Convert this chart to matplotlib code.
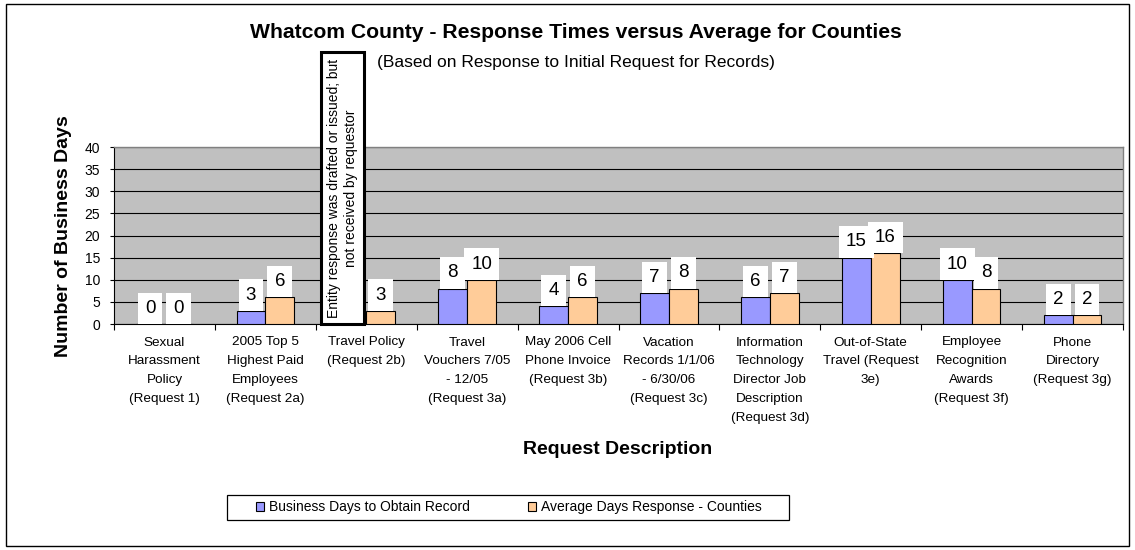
import numpy as np
import matplotlib
matplotlib.use("Agg")
import matplotlib.pyplot as plt
from matplotlib.patches import Rectangle

plt.rcParams['font.family'] = ['Liberation Sans', 'DejaVu Sans']

# ---- data -------------------------------------------------------------
categories = [
    "Sexual\nHarassment\nPolicy\n(Request 1)",
    "2005 Top 5\nHighest Paid\nEmployees\n(Request 2a)",
    "Travel Policy\n(Request 2b)",
    "Travel\nVouchers 7/05\n- 12/05\n(Request 3a)",
    "May 2006 Cell\nPhone Invoice\n(Request 3b)",
    "Vacation\nRecords 1/1/06\n- 6/30/06\n(Request 3c)",
    "Information\nTechnology\nDirector Job\nDescription\n(Request 3d)",
    "Out-of-State\nTravel (Request\n3e)",
    "Employee\nRecognition\nAwards\n(Request 3f)",
    "Phone\nDirectory\n(Request 3g)",
]
business_days = [0, 3, np.nan, 8, 4, 7, 6, 15, 10, 2]
county_average = [0, 6, 3, 10, 6, 8, 7, 16, 8, 2]
series_names = ["Business Days to Obtain Record", "Average Days Response - Counties"]
y_ticks = [0, 5, 10, 15, 20, 25, 30, 35, 40]

title = "Whatcom County - Response Times versus Average for Counties"
subtitle = "(Based on Response to Initial Request for Records)"
note = "Entity response was drafted or issued; but\nnot received by requestor"

# ---- figure -----------------------------------------------------------
W, H = 1135, 550
fig = plt.figure(figsize=(W / 100, H / 100), dpi=100)
fig.patch.set_facecolor("white")

def fx(px):
    return px / W

def fy(py):
    return 1 - py / H

ax = fig.add_axes([fx(114), fy(324), fx(1123) - fx(114), fy(147) - fy(324)])
ax.set_facecolor("#C0C0C0")

x = np.arange(len(categories))
w = 1 / 3.5
blue_bars = ax.bar(x - w / 2, business_days, w, color="#9999FF",
                   edgecolor="black", linewidth=0.8, zorder=3,
                   label=series_names[0])
orange_bars = ax.bar(x + w / 2, county_average, w, color="#FFCC99",
                     edgecolor="black", linewidth=0.8, zorder=3,
                     label=series_names[1])

# value labels in white boxes sitting on top of each bar
for xs, vals in ((x - w / 2, business_days), (x + w / 2, county_average)):
    for xi, v in zip(xs, vals):
        if np.isnan(v):
            continue
        ax.annotate(f"{v:.0f}", xy=(xi, v), xytext=(0, 5.2),
                    textcoords="offset points", ha="center", va="bottom",
                    fontsize=13.5, zorder=6, annotation_clip=False,
                    bbox=dict(boxstyle="square,pad=0.38", fc="white",
                              ec="none"))

ax.set_xlim(-0.5, len(categories) - 0.5)
ax.set_ylim(0, 40)
ax.set_yticks(y_ticks)
ax.set_yticklabels([str(t) for t in y_ticks], fontsize=10)
ax.tick_params(axis="y", length=3, width=0.8, pad=7, color="black")

ax.set_xticks(x)
ax.set_xticklabels(categories, fontsize=9.7, linespacing=1.75)
ax.set_xticks(np.arange(len(categories) + 1) - 0.5, minor=True)
ax.tick_params(axis="x", which="major", length=0, pad=9)
ax.tick_params(axis="x", which="minor", length=4, width=0.8, color="black")

ax.yaxis.grid(True, color="black", linewidth=0.8, zorder=1)
ax.set_axisbelow(True)
for side in ("left", "bottom"):
    ax.spines[side].set_color("black")
    ax.spines[side].set_linewidth(0.8)
for side in ("top", "right"):
    ax.spines[side].set_color("#808080")
    ax.spines[side].set_linewidth(1.0)

# note over the Travel Policy group
ax.text(0.2265, 0.768, note, transform=ax.transAxes, rotation=90,
        ha="center", va="center", fontsize=10, linespacing=1.3,
        multialignment="center", zorder=8, clip_on=False,
        bbox=dict(boxstyle="square,pad=0.45", fc="white", ec="black",
                  lw=2.2))

# titles and axis titles
fig.text(fx(575.5), fy(33), title, ha="center", va="center",
         fontsize=15.2, fontweight="bold")
fig.text(fx(575.5), fy(62), subtitle, ha="center", va="center",
         fontsize=12.5)
fig.text(fx(618), fy(449), "Request Description", ha="center",
         va="center", fontsize=14, fontweight="bold")
fig.text(fx(63), fy(236), "Number of Business Days", ha="center",
         va="center", rotation=90, fontsize=14, fontweight="bold")

# legend with a plain rectangular frame
fig.add_artist(Rectangle((fx(227), fy(520)), fx(789) - fx(227),
                         fy(495) - fy(520), transform=fig.transFigure,
                         fc="white", ec="black", lw=0.9))
fig.legend(handles=[blue_bars, orange_bars], labels=series_names,
           loc="center", bbox_to_anchor=(fx(509), fy(507.5)),
           ncol=2, frameon=False, fontsize=10, borderpad=0,
           handlelength=0.58, handleheight=0.58, handletextpad=0.36,
           columnspacing=4.2)

# outer chart border
fig.add_artist(Rectangle((fx(6), fy(546)), fx(1129) - fx(6),
                         fy(4) - fy(546), transform=fig.transFigure,
                         fc="none", ec="black", lw=1.0))

fig.savefig("out.png", dpi=100)
